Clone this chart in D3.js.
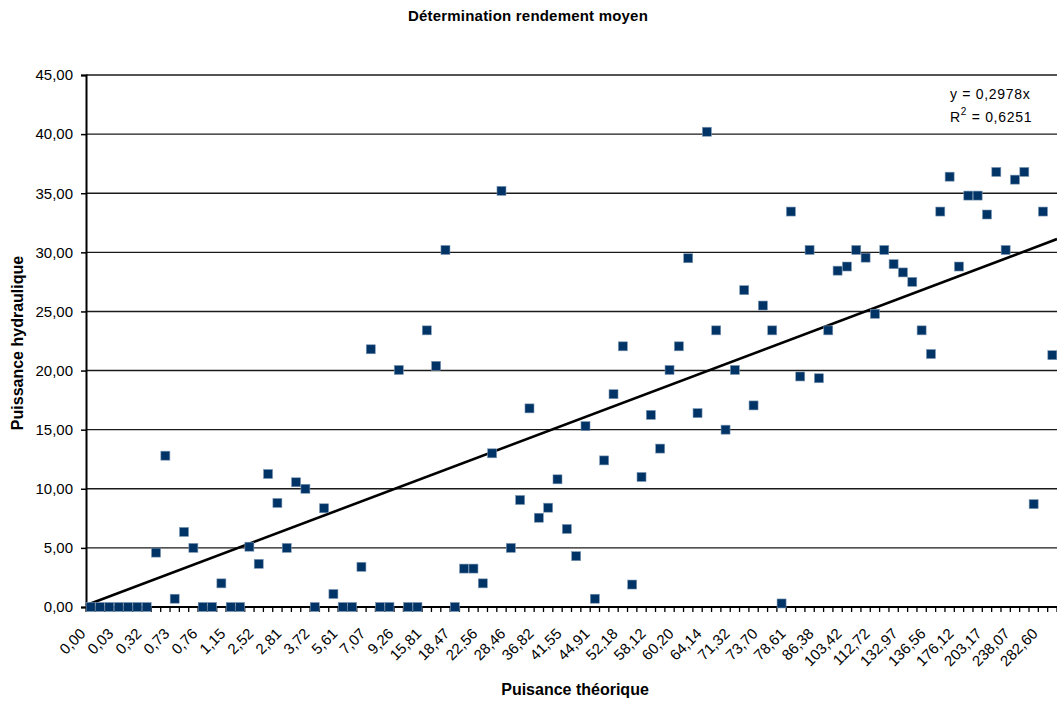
<!DOCTYPE html>
<html>
<head>
<meta charset="utf-8">
<script src="https://cdn.jsdelivr.net/npm/d3@7"></script>
<style>
body { margin: 0; background: #fff; }
text { font-family: "Liberation Sans", Arial, sans-serif; fill: #000; }
</style>
</head>
<body>
<div id="chart"></div>
<script>
// one label shown every 3 categories
var tickLabels = ['0,00','0,03','0,32','0,73','0,76','1,15','2,52','2,81','3,72','5,61',
  '7,07','9,26','15,81','18,47','22,56','28,46','36,82','41,55','44,91','52,18',
  '58,12','60,20','64,14','71,32','73,70','78,61','86,38','103,42','112,72','132,97',
  '136,56','176,12','203,17','238,07','282,60'];

// puissance hydraulique, one per category
var values = [
  0, 0, 0, 0, 0, 0, 0, 4.6, 12.8, 0.7,
  6.35, 5.0, 0, 0, 2.0, 0, 0, 5.1, 3.65, 11.25,
  8.8, 5.0, 10.55, 10.0, 0, 8.35, 1.1, 0, 0, 3.4,
  21.8, 0, 0, 20.05, 0, 0, 23.4, 20.4, 30.2, 0,
  3.25, 3.25, 2.0, 13.0, 35.2, 5.0, 9.05, 16.8, 7.55, 8.4,
  10.8, 6.6, 4.3, 15.3, 0.7, 12.4, 18.0, 22.05, 1.9, 11.0,
  16.25, 13.4, 20.05, 22.05, 29.5, 16.4, 40.2, 23.4, 15.0, 20.05,
  26.8, 17.05, 25.5, 23.4, 0.3, 33.45, 19.5, 30.2, 19.35, 23.4,
  28.45, 28.8, 30.2, 29.55, 24.8, 30.2, 29.0, 28.3, 27.5, 23.4,
  21.4, 33.45, 36.4, 28.8, 34.8, 34.8, 33.2, 36.8, 30.2, 36.15,
  36.8, 8.7, 33.45, 21.3
];

var slope = 0.2978, r2 = '0,6251';
var yTicks = [0, 5, 10, 15, 20, 25, 30, 35, 40, 45];

var width = 1057, height = 702;
var pLeft = 86, pRight = 1057, pTop = 75, pBottom = 607;

var fmt = function(v){ return d3.format('.2f')(v).replace('.', ','); };

var svg = d3.select('#chart').append('svg')
    .attr('width', width).attr('height', height);

var x = d3.scaleBand().domain(d3.range(values.length)).range([pLeft, pRight]).padding(0);
var xLin = d3.scaleLinear().domain([0.5, values.length + 0.5]).range([pLeft, pRight]);
var y = d3.scaleLinear().domain([0, 45]).range([pBottom, pTop]);

// gridlines
svg.append('g').selectAll('line')
    .data(yTicks.slice(1))
    .enter().append('line')
    .attr('x1', pLeft).attr('x2', pRight)
    .attr('y1', function(d){ return y(d); }).attr('y2', function(d){ return y(d); })
    .attr('stroke', '#1a1a1a').attr('stroke-width', 1.4);

// y axis
var yAxis = svg.append('g').attr('transform', 'translate(' + pLeft + ',0)')
    .call(d3.axisLeft(y).tickValues(yTicks).tickFormat(fmt).tickSize(5).tickPadding(8));
yAxis.select('.domain').attr('stroke', '#000').attr('stroke-width', 2);
yAxis.selectAll('.tick line').attr('stroke', '#000').attr('stroke-width', 1.5);
yAxis.selectAll('text').style('font-size', '15px').attr('fill', '#000');

// x axis: ticks between categories
var bw = x.bandwidth();
svg.append('g').selectAll('line')
    .data(d3.range(values.length + 1))
    .enter().append('line')
    .attr('x1', function(i){ return pLeft + i * bw; })
    .attr('x2', function(i){ return pLeft + i * bw; })
    .attr('y1', pBottom).attr('y2', pBottom + 5)
    .attr('stroke', '#000').attr('stroke-width', 1.3);
svg.append('line')
    .attr('x1', pLeft).attr('x2', pRight).attr('y1', pBottom).attr('y2', pBottom)
    .attr('stroke', '#000').attr('stroke-width', 2);

svg.append('g').selectAll('text')
    .data(tickLabels)
    .enter().append('text')
    .attr('transform', function(d, k){
        var cx = x(k * 3) + bw / 2 - 8;
        return 'translate(' + cx + ',' + (pBottom + 24) + ') rotate(-45)';
    })
    .attr('text-anchor', 'end')
    .attr('dy', '0.35em')
    .style('font-size', '15px')
    .text(function(d){ return d; });

// trend line
svg.append('line')
    .attr('x1', xLin(0.5)).attr('y1', y(slope * 0.5))
    .attr('x2', xLin(values.length + 0.5)).attr('y2', y(slope * (values.length + 0.5)))
    .attr('stroke', '#000').attr('stroke-width', 2.6);

// markers
var ms = 9;
svg.append('g').selectAll('rect')
    .data(values)
    .enter().append('rect')
    .attr('x', function(d, i){ return x(i) + bw / 2 - ms / 2; })
    .attr('y', function(d){ return y(d) - ms / 2; })
    .attr('width', ms).attr('height', ms)
    .attr('fill', '#003366')
    .attr('stroke', '#7d97b3').attr('stroke-width', 0.6);

// equation
var eq = svg.append('g').style('font-size', '14px').style('letter-spacing', '0.7px');
eq.append('text').attr('x', 950).attr('y', 99).text('y = ' + String(slope).replace('.', ',') + 'x');
var rt = eq.append('text').attr('x', 950).attr('y', 122);
rt.append('tspan').text('R');
rt.append('tspan').attr('dy', -7).style('font-size', '10px').text('2');
rt.append('tspan').attr('dy', 7).text(' = ' + r2);

// titles
svg.append('text').attr('x', 528).attr('y', 21).attr('text-anchor', 'middle')
    .style('font-size', '15px').style('font-weight', 'bold').style('letter-spacing', '0.2px')
    .text('Détermination rendement moyen');
svg.append('text').attr('x', 575).attr('y', 695).attr('text-anchor', 'middle')
    .style('font-size', '16px').style('font-weight', 'bold')
    .text('Puisance théorique');
svg.append('text').attr('transform', 'translate(23,343) rotate(-90)').attr('text-anchor', 'middle')
    .style('font-size', '16px').style('font-weight', 'bold')
    .text('Puissance hydraulique');
</script>
</body>
</html>
